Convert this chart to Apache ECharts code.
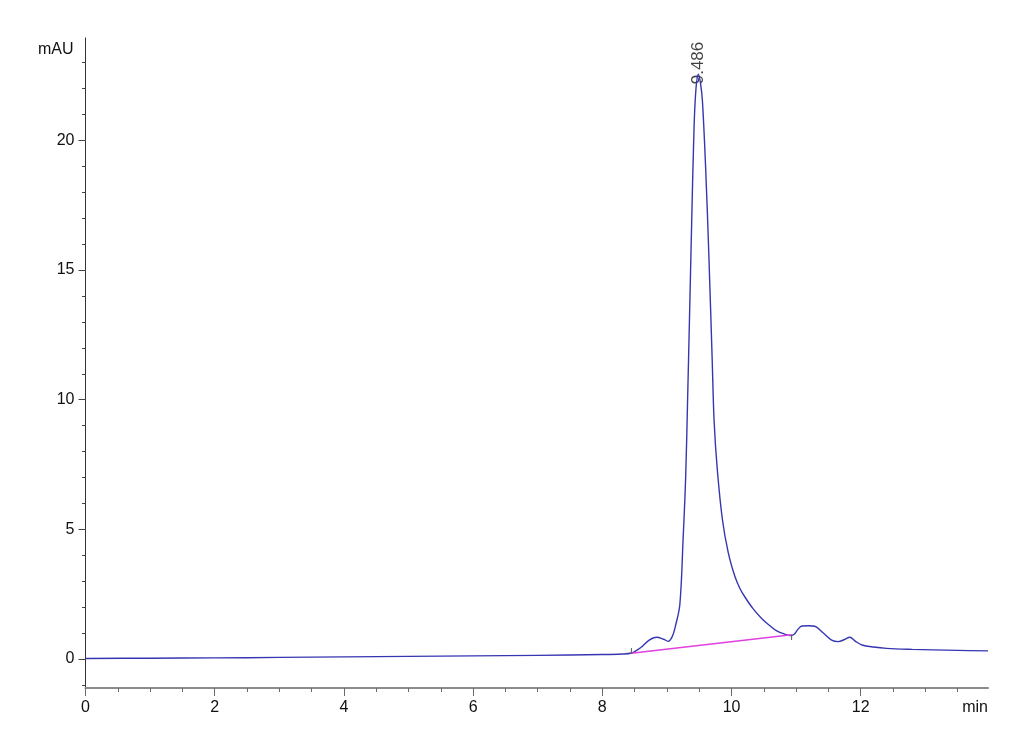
<!DOCTYPE html>
<html>
<head>
<meta charset="utf-8">
<script src="https://cdn.jsdelivr.net/npm/echarts@6/dist/echarts.min.js"></script>
<style>
html,body{margin:0;padding:0;background:#fff;}
#chart{width:1030px;height:755px;}
</style>
</head>
<body>
<div id="chart"></div>
<script>
// Chromatogram data (time in min, signal in mAU)
var timeMin = [0, 1, 2, 3, 4, 5, 6, 7, 8, 8.3, 8.45, 8.6, 8.72, 8.84, 8.95, 9.02, 9.08, 9.13, 9.2, 9.25, 9.29, 9.32, 9.35, 9.38, 9.42, 9.45, 9.486, 9.52, 9.55, 9.6, 9.65, 9.7, 9.73, 9.78, 9.86, 9.95, 10.05, 10.13, 10.21, 10.33, 10.47, 10.6, 10.7, 10.82, 10.92, 10.97, 11.03, 11.09, 11.2, 11.29, 11.42, 11.55, 11.65, 11.75, 11.83, 11.92, 12.02, 12.2, 12.4, 12.8, 13.12, 13.5, 13.97];
var signalMau = [0.02, 0.03, 0.04, 0.06, 0.08, 0.10, 0.12, 0.14, 0.17, 0.19, 0.23, 0.45, 0.72, 0.84, 0.76, 0.68, 0.85, 1.25, 2.1, 4.6, 7.0, 10.0, 13.2, 16.5, 20.5, 22.0, 22.55, 22.2, 21.5, 18.9, 15.5, 11.6, 9.2, 7.3, 5.36, 4.09, 3.2, 2.72, 2.38, 1.95, 1.55, 1.27, 1.08, 0.96, 0.90, 0.95, 1.15, 1.27, 1.28, 1.26, 1.0, 0.73, 0.67, 0.75, 0.84, 0.68, 0.54, 0.46, 0.41, 0.37, 0.35, 0.33, 0.31];
// Integration baseline
var baseTimes = [8.45, 10.93];
var baseValues = [0.22, 0.93];
// Integration start/end tick marks
var startTickTimes = [8.45, 8.45];
var startTickValues = [0.22, 0.42];
var endTickTimes = [10.93, 10.93];
var endTickValues = [0.93, 0.73];
// Peak annotation
var peakTime = 9.486;
var peakValue = 22.55;
var peakLabel = '9.486';
// Axis ticks
var xMajor = [0, 2, 4, 6, 8, 10, 12];
var xMinor = [0, 0.5, 1, 1.5, 2, 2.5, 3, 3.5, 4, 4.5, 5, 5.5, 6, 6.5, 7, 7.5, 8, 8.5, 9, 9.5, 10, 10.5, 11, 11.5, 12, 12.5, 13, 13.5];
var yMajor = [0, 5, 10, 15, 20];
var yMinor = [-1, 0, 1, 2, 3, 4, 5, 6, 7, 8, 9, 10, 11, 12, 13, 14, 15, 16, 17, 18, 19, 20, 21, 22, 23];

function zip(a, b) { return a.map(function (v, k) { return [v, b[k]]; }); }

var fontFam = "'Liberation Sans', Arial, sans-serif";
var X_MIN = 0, X_MAX = 13.97, Y_MIN = -1.12, Y_MAX = 23.95;

var chart = echarts.init(document.getElementById('chart'), null, {renderer: 'canvas'});
chart.setOption({
  animation: false,
  backgroundColor: '#fff',
  grid: {left: 85.5, right: 42, top: 38, bottom: 67, containLabel: false},
  xAxis: [{
    type: 'value', min: X_MIN, max: X_MAX, position: 'bottom',
    axisLine: {onZero: false, lineStyle: {color: '#8c8c8c', width: 2}},
    axisTick: {show: true, customValues: xMajor, length: 8, lineStyle: {color: '#6a6a6a', width: 1}},
    axisLabel: {customValues: xMajor, color: '#111', fontSize: 16, fontFamily: fontFam, margin: 12},
    splitLine: {show: false},
    name: 'min', nameLocation: 'end', nameGap: 0,
    nameTextStyle: {align: 'right', verticalAlign: 'top', padding: [12, 0, 0, 0], color: '#111', fontSize: 16, fontFamily: fontFam}
  }, {
    type: 'value', min: X_MIN, max: X_MAX, position: 'bottom',
    axisLine: {show: false, onZero: false},
    axisTick: {show: true, customValues: xMinor, length: 4, lineStyle: {color: '#6a6a6a', width: 1}},
    axisLabel: {show: false},
    splitLine: {show: false}
  }],
  yAxis: [{
    type: 'value', min: Y_MIN, max: Y_MAX, position: 'left',
    axisLine: {show: true, onZero: false, lineStyle: {color: '#333', width: 1}},
    axisTick: {show: true, customValues: yMajor, length: 7, lineStyle: {color: '#444', width: 1}},
    axisLabel: {customValues: yMajor, color: '#111', fontSize: 16, fontFamily: fontFam, margin: 11},
    splitLine: {show: false},
    name: 'mAU', nameLocation: 'end', nameGap: -12,
    nameTextStyle: {align: 'right', verticalAlign: 'middle', padding: [0, 12, 0, 0], color: '#111', fontSize: 16, fontFamily: fontFam}
  }, {
    type: 'value', min: Y_MIN, max: Y_MAX, position: 'left',
    axisLine: {show: false, onZero: false},
    axisTick: {show: true, customValues: yMinor, length: 3.5, lineStyle: {color: '#444', width: 1}},
    axisLabel: {show: false},
    splitLine: {show: false}
  }],
  series: [{
    type: 'line', xAxisIndex: 0, yAxisIndex: 0,
    data: zip(timeMin, signalMau), showSymbol: false, symbol: 'none',
    smooth: 0.35,
    lineStyle: {color: '#3636b2', width: 1.4}
  }, {
    type: 'line', xAxisIndex: 0, yAxisIndex: 0,
    data: zip(baseTimes, baseValues), symbol: 'none',
    lineStyle: {color: '#e040e0', width: 1.5}
  }, {
    type: 'line', xAxisIndex: 0, yAxisIndex: 0,
    data: zip(startTickTimes, startTickValues), symbol: 'none',
    lineStyle: {color: '#555', width: 1}
  }, {
    type: 'line', xAxisIndex: 0, yAxisIndex: 0,
    data: zip(endTickTimes, endTickValues), symbol: 'none',
    lineStyle: {color: '#555', width: 1}
  }, {
    type: 'scatter', xAxisIndex: 0, yAxisIndex: 0,
    data: [[peakTime, peakValue]], symbolSize: 0, silent: true,
    label: {show: true, formatter: peakLabel, position: 'top', distance: -10, rotate: 90,
      align: 'left', verticalAlign: 'middle', color: '#111', fontSize: 17,
      fontFamily: fontFam}
  }]
});
</script>
</body>
</html>
